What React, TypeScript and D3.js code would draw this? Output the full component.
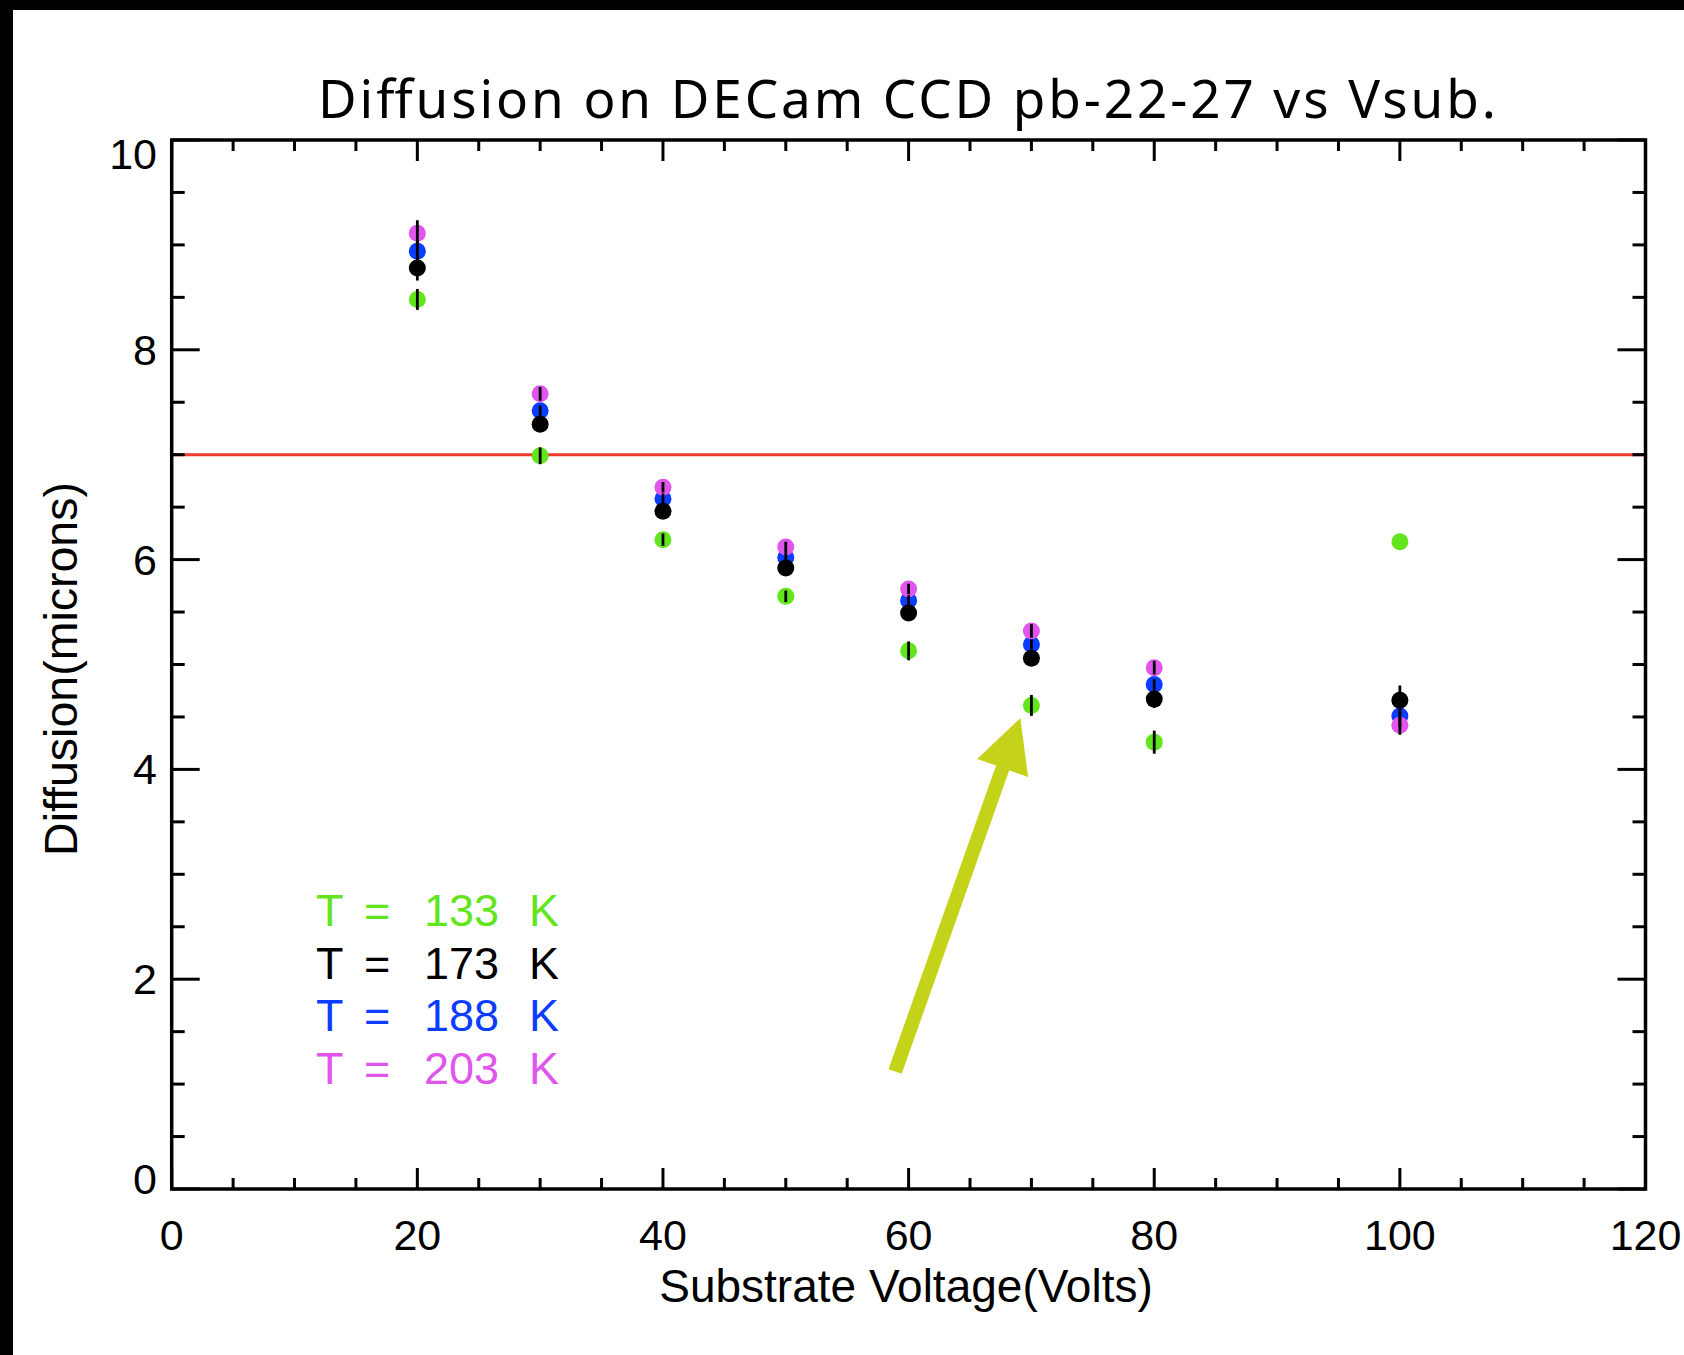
import React from "react";
import * as d3 from "d3";

// ---- data ----
const volts = [20, 30, 40, 50, 60, 70, 80, 100];
const temps = [133, 173, 188, 203];
const diff133 = [8.48, 6.99, 6.19, 5.65, 5.13, 4.61, 4.26, 6.17];
const diff173 = [8.78, 7.29, 6.46, 5.92, 5.49, 5.06, 4.67, 4.66];
const diff188 = [8.94, 7.42, 6.58, 6.02, 5.61, 5.19, 4.81, 4.51];
const diff203 = [9.11, 7.58, 6.69, 6.12, 5.72, 5.32, 4.97, 4.42];
const err133 = [0.1, 0.08, 0.06, 0.055, 0.09, 0.1, 0.11, 0.0];
const err173 = [0.12, 0.05, 0.05, 0.05, 0.05, 0.05, 0.085, 0.14];
const err188 = [0.1, 0.05, 0.05, 0.05, 0.05, 0.05, 0.05, 0.1];
const err203 = [0.125, 0.065, 0.05, 0.05, 0.05, 0.065, 0.065, 0.09];
const threshold = 7;
const xMajorTicks = [0, 20, 40, 60, 80, 100, 120];
const yMajorTicks = [0, 2, 4, 6, 8, 10];
const arrowFrom = [58.9, 1.12];
const arrowTo = [69.1, 4.49];

const titleText = "Diffusion on DECam CCD pb-22-27 vs Vsub.";
const xLabel = "Substrate Voltage(Volts)";
const yLabel = "Diffusion(microns)";

// ---- styles ----
const W = 1684;
const H = 1355;
const plot = { left: 171.7, right: 1645.5, top: 140, bottom: 1189 };
const FONT = "'Noto Sans', 'DejaVu Sans', sans-serif";
const FONT2 = "'Liberation Sans', Arial, sans-serif";
const colors: Record<number, string> = {
  133: "#63e51e",
  173: "#000000",
  188: "#0a3dff",
  203: "#e055ec",
};

const series = [
  { t: 133, values: diff133, errs: err133 },
  { t: 173, values: diff173, errs: err173 },
  { t: 188, values: diff188, errs: err188 },
  { t: 203, values: diff203, errs: err203 },
];
// draw order: green, blue, magenta, black
const drawOrder = [133, 188, 203, 173];

export default function App() {
  const x = d3.scaleLinear().domain([0, 120]).range([plot.left, plot.right]);
  const y = d3.scaleLinear().domain([0, 10]).range([plot.bottom, plot.top]);

  const xMinor = d3.range(0, 120.001, 5).filter((v) => !xMajorTicks.includes(v));
  const yMinor = d3.range(0, 10.001, 0.5).filter((v) => !yMajorTicks.includes(v));

  const frameW = 3.5;
  const tickW = 3;

  // arrow geometry
  const ax0 = x(arrowFrom[0]);
  const ay0 = y(arrowFrom[1]);
  const ax1 = x(arrowTo[0]);
  const ay1 = y(arrowTo[1]);
  const len = Math.hypot(ax1 - ax0, ay1 - ay0);
  const ux = (ax1 - ax0) / len;
  const uy = (ay1 - ay0) / len;
  const px = -uy;
  const py = ux;
  const headLen = 53;
  const headHalf = 27;
  const shaftHalf = 7;
  const bx = ax1 - ux * headLen;
  const by = ay1 - uy * headLen;
  const arrowPts = [
    [ax0 + px * shaftHalf, ay0 + py * shaftHalf],
    [bx + px * shaftHalf, by + py * shaftHalf],
    [bx + px * headHalf, by + py * headHalf],
    [ax1, ay1],
    [bx - px * headHalf, by - py * headHalf],
    [bx - px * shaftHalf, by - py * shaftHalf],
    [ax0 - px * shaftHalf, ay0 - py * shaftHalf],
  ];

  const yLabelOffset = (v: number) => (v === 10 ? 14 : v === 0 ? -10 : 0);

  const legendX = 316;
  const legendY0 = 926;
  const legendDy = 52.5;

  return (
    <svg
      width={W}
      height={H}
      style={{ position: "absolute", left: 0, top: 0 }}
      fontFamily={FONT2}
    >
      <rect x={0} y={0} width={W} height={H} fill="#000" />
      <rect x={13} y={10} width={W - 13} height={H - 10} fill="#fff" />

      {/* title */}
      <text
        x={907}
        y={118}
        textAnchor="middle"
        fontSize={53}
        fill="#000"
        fontFamily={FONT}
        textLength={1178}
        lengthAdjust="spacing"
      >
        {titleText}
      </text>

      {/* threshold line */}
      <line
        x1={plot.left}
        x2={plot.right}
        y1={y(threshold)}
        y2={y(threshold)}
        stroke="#ee3a2a"
        strokeWidth={3}
      />

      {/* ticks */}
      <g stroke="#000" strokeWidth={tickW}>
        {xMajorTicks.map((v) => (
          <g key={"xM" + v}>
            <line x1={x(v)} x2={x(v)} y1={plot.bottom} y2={plot.bottom - 21} />
            <line x1={x(v)} x2={x(v)} y1={plot.top} y2={plot.top + 21} />
          </g>
        ))}
        {xMinor.map((v) => (
          <g key={"xm" + v}>
            <line x1={x(v)} x2={x(v)} y1={plot.bottom} y2={plot.bottom - 11} />
            <line x1={x(v)} x2={x(v)} y1={plot.top} y2={plot.top + 11} />
          </g>
        ))}
        {yMajorTicks.map((v) => (
          <g key={"yM" + v}>
            <line x1={plot.left} x2={plot.left + 28} y1={y(v)} y2={y(v)} />
            <line x1={plot.right} x2={plot.right - 28} y1={y(v)} y2={y(v)} />
          </g>
        ))}
        {yMinor.map((v) => (
          <g key={"ym" + v}>
            <line x1={plot.left} x2={plot.left + 13} y1={y(v)} y2={y(v)} />
            <line x1={plot.right} x2={plot.right - 13} y1={y(v)} y2={y(v)} />
          </g>
        ))}
      </g>

      {/* frame */}
      <rect
        x={plot.left}
        y={plot.top}
        width={plot.right - plot.left}
        height={plot.bottom - plot.top}
        fill="none"
        stroke="#000"
        strokeWidth={frameW}
      />

      {/* tick labels */}
      <g fontSize={43} fill="#000">
        {xMajorTicks.map((v) => (
          <text key={"xl" + v} x={x(v)} y={1250} textAnchor="middle">
            {v}
          </text>
        ))}
        {yMajorTicks.map((v) => (
          <text
            key={"yl" + v}
            x={157}
            y={y(v) + yLabelOffset(v)}
            textAnchor="end"
            dominantBaseline="central"
          >
            {v}
          </text>
        ))}
      </g>

      {/* axis labels */}
      <text x={906} y={1302} textAnchor="middle" fontSize={46} fill="#000">
        {xLabel}
      </text>
      <text
        transform={`translate(77,669) rotate(-90)`}
        textAnchor="middle"
        fontSize={46.5}
        fill="#000"
      >
        {yLabel}
      </text>

      {/* points */}
      {drawOrder.map((t) => {
        const s = series.find((d) => d.t === t)!;
        return (
          <g key={"p" + t} fill={colors[t]}>
            {volts.map((v, i) => (
              <circle key={i} cx={x(v)} cy={y(s.values[i])} r={8.5} />
            ))}
          </g>
        );
      })}
      {/* error bars */}
      <g stroke="#000" strokeWidth={2.8}>
        {series.map((s) =>
          volts.map((v, i) =>
            s.errs[i] > 0 ? (
              <line
                key={s.t + "-" + i}
                x1={x(v)}
                x2={x(v)}
                y1={y(s.values[i] - s.errs[i])}
                y2={y(s.values[i] + s.errs[i])}
              />
            ) : null
          )
        )}
      </g>

      {/* legend */}
      <g fontSize={45}>
        {temps.map((t, i) => (
          <text key={"lg" + t} y={legendY0 + i * legendDy} fill={colors[t]}>
            <tspan x={legendX}>T</tspan>
            <tspan x={legendX + 48}>=</tspan>
            <tspan x={legendX + 108}>{t}</tspan>
            <tspan x={legendX + 213}>K</tspan>
          </text>
        ))}
      </g>

      {/* arrow */}
      <polygon
        points={arrowPts.map((p) => p.join(",")).join(" ")}
        fill="#c4d31a"
      />
    </svg>
  );
}
